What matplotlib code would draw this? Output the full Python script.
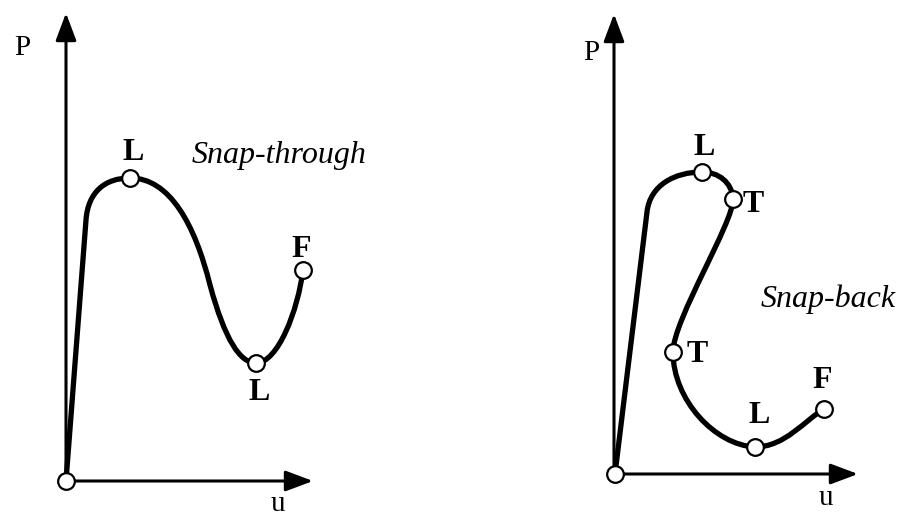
import matplotlib.pyplot as plt
from matplotlib.path import Path
from matplotlib.patches import PathPatch

plt.rcParams['font.family'] = ['Liberation Serif', 'DejaVu Serif']

M, L, C = Path.MOVETO, Path.LINETO, Path.CURVE4

# Snap-through diagram (drawing units, y grows downward)
st_origin = (66, 481)
st_p_tip = (66, 13)
st_u_tip = (313, 481)
st_path = [(66, 481), (86, 220),
           (88, 192), (105, 178), (130, 178),
           (170, 178), (195, 225), (210, 285),
           (225, 340), (240, 363), (256, 363),
           (278, 363), (298, 310), (303, 270)]
st_codes = [M, L] + [C] * 12
st_points = [(66, 481), (130, 178), (256, 363), (303, 270)]
st_labels = ['L', 'L', 'F']
st_label_xy = [(133, 160), (259, 400), (301, 257)]

# Snap-back diagram
sb_origin = (614, 474)
sb_p_tip = (614, 14)
sb_u_tip = (858, 474)
sb_path = [(615, 474), (647, 212),
           (650, 185), (675, 172), (702, 172),
           (718, 172), (732, 182), (733, 199),
           (734, 222), (673, 320), (673, 352),
           (673, 400), (715, 445), (755, 447),
           (785, 447), (805, 420), (824, 409)]
sb_codes = [M, L] + [C] * 15
sb_points = [(615, 474), (702, 172), (733, 199), (673, 352), (755, 447), (824, 409)]
sb_labels = ['L', 'T', 'T', 'L', 'F']
sb_label_xy = [(704, 155), (753, 212), (697, 362), (759, 423), (822, 388)]


def draw_diagram(ax, origin, p_tip, u_tip, verts, codes, points,
                 labels, label_xy, p_xy, u_xy, title, title_xy):
    for tip in (p_tip, u_tip):
        ax.annotate('', xy=tip, xytext=origin,
                    arrowprops=dict(arrowstyle='-|>,head_length=0.4,head_width=0.15',
                                    mutation_scale=42, lw=2.2, color='black',
                                    shrinkA=0, shrinkB=0), zorder=2)
    ax.add_patch(PathPatch(Path(verts, codes), facecolor='none', edgecolor='black',
                           lw=3.8, capstyle='round', joinstyle='round', zorder=3))
    xs, ys = zip(*points)
    ax.plot(xs, ys, 'o', ms=12, mfc='white', mec='black', mew=1.6, zorder=5)
    for txt, (x, y) in zip(labels, label_xy):
        ax.text(x, y, txt, fontsize=23, fontweight='bold', ha='center', va='baseline')
    ax.text(*p_xy, 'P', fontsize=21, ha='center', va='baseline')
    ax.text(*u_xy, 'u', fontsize=21, ha='center', va='baseline')
    ax.text(*title_xy, title, fontsize=23, style='italic', ha='center', va='baseline')


fig = plt.figure(figsize=(8.99, 5.16), dpi=100)
ax = fig.add_axes([0, 0, 1, 1])
ax.set_xlim(0, 899)
ax.set_ylim(516, 0)
ax.axis('off')

draw_diagram(ax, st_origin, st_p_tip, st_u_tip, st_path, st_codes, st_points,
             st_labels, st_label_xy, (22, 55), (278, 511), 'Snap-through', (279, 163))
draw_diagram(ax, sb_origin, sb_p_tip, sb_u_tip, sb_path, sb_codes, sb_points,
             sb_labels, sb_label_xy, (591, 60), (826, 505), 'Snap-back', (828, 307))

fig.savefig('out.png', dpi=100, facecolor='white')
